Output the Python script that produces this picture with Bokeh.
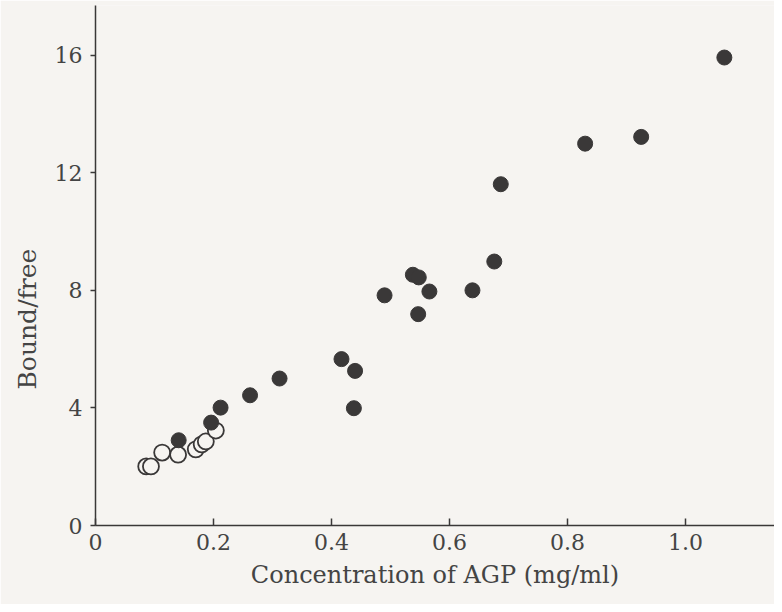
from bokeh.plotting import figure
from bokeh.models import Range1d, FixedTicker, Title
from bokeh.embed import file_html
from bokeh.resources import INLINE

# filled circles
filled_x = [0.141, 0.196, 0.212, 0.262, 0.312, 0.417, 0.440, 0.438, 0.490, 0.538,
            0.548, 0.566, 0.547, 0.639, 0.676, 0.687, 0.830, 0.925, 1.066]
filled_y = [2.90, 3.50, 4.01, 4.43, 5.00, 5.66, 5.26, 3.99, 7.83, 8.53,
            8.44, 7.96, 7.19, 8.00, 8.98, 11.61, 12.99, 13.22, 15.92]
# open circles
open_x = [0.086, 0.094, 0.113, 0.140, 0.170, 0.180, 0.187, 0.204]
open_y = [2.01, 2.01, 2.48, 2.41, 2.59, 2.76, 2.86, 3.23]

x_ticks = [0, 0.2, 0.4, 0.6, 0.8, 1.0]
x_tick_labels = {0: "0", 0.2: "0.2", 0.4: "0.4", 0.6: "0.6", 0.8: "0.8", 1.0: "1.0"}
y_ticks = [0, 4, 8, 12, 16]

BG = "#f6f4f1"
INK = "#3a3838"
TXT = "#444444"
FONT = "DejaVu Serif"

p = figure(width=774, height=604, output_backend="svg", toolbar_location=None,
           x_range=Range1d(0, 1.151), y_range=Range1d(0, 17.69),
           min_border_left=94, min_border_right=0, min_border_top=5, min_border_bottom=79)
p.background_fill_color = BG
p.border_fill_color = BG
p.outline_line_color = None
p.grid.visible = False

p.xaxis.ticker = FixedTicker(ticks=x_ticks)
p.xaxis.major_label_overrides = x_tick_labels
p.yaxis.ticker = FixedTicker(ticks=y_ticks)
p.xaxis.minor_tick_line_color = None
p.yaxis.minor_tick_line_color = None

for ax in (p.xaxis, p.yaxis):
    ax.axis_line_color = INK
    ax.axis_line_width = 1.5
    ax.major_tick_line_color = INK
    ax.major_tick_line_width = 1.5
    ax.major_label_text_font = FONT
    ax.major_label_text_font_size = "22px"
    ax.major_label_text_color = TXT
    ax.axis_label_text_font = FONT
    ax.axis_label_text_font_style = "normal"
    ax.axis_label_text_font_size = "24px"
    ax.axis_label_text_color = TXT

p.xaxis.major_tick_in = 7
p.xaxis.major_tick_out = 0
p.xaxis.major_label_standoff = 8
p.xaxis.axis_label = "Concentration of AGP (mg/ml)"
p.xaxis.axis_label_standoff = 8

p.yaxis.major_tick_in = 0
p.yaxis.major_tick_out = 5
p.yaxis.major_label_standoff = 8

ytitle = Title(text="Bound/free", align="left", offset=136, standoff=20,
               text_font=FONT, text_font_size="25px", text_font_style="normal",
               text_color=TXT)
p.add_layout(ytitle, "left")

p.scatter(open_x, open_y, size=16, marker="circle", fill_color=BG,
          line_color=INK, line_width=1.8)
p.scatter(filled_x, filled_y, size=15, marker="circle", fill_color=INK,
          line_color=INK, line_width=1)

open("out.html", "w").write(file_html(p, INLINE))
